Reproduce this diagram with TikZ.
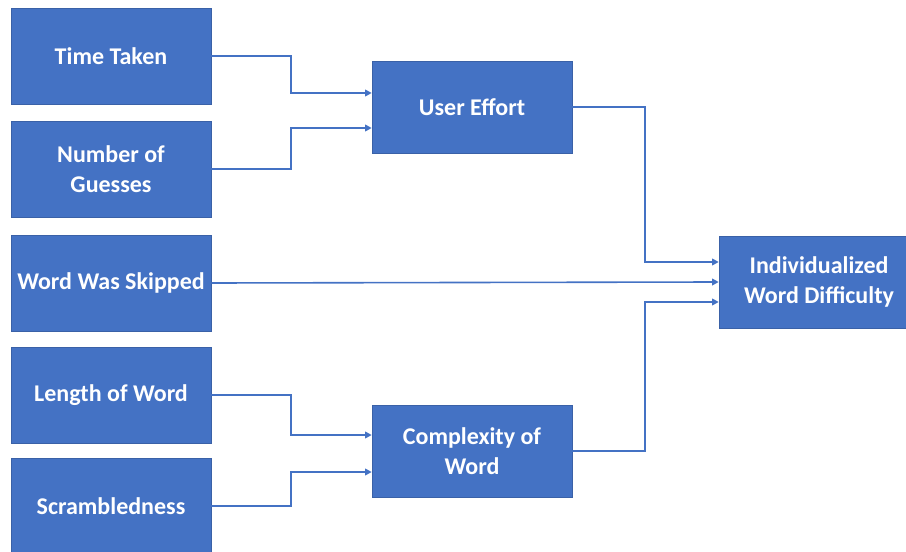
\documentclass[tikz,border=0pt]{standalone}
\usepackage{fontspec}
\setmainfont{Carlito}
\usetikzlibrary{arrows.meta, calc, positioning}
\definecolor{boxblue}{HTML}{4472C4}
\tikzset{
  factor/.style={rectangle, fill=boxblue, draw=boxblue!85!black, line width=0.4pt,
    text=white, font=\fontsize{18}{22.5}\selectfont\bfseries, align=center,
    minimum width=150pt, minimum height=72pt, inner sep=0pt},
  middle/.style={factor, minimum height=69pt},
  result/.style={factor, minimum height=69pt},
  flow/.style={draw=boxblue, line width=1.2pt, -{Triangle[length=5pt,width=5pt]}},
}
\begin{document}
\begin{tikzpicture}[x=0.75pt, y=-0.75pt]
\useasboundingbox (0,0) rectangle (906,552);

\node[factor] at (111,56) (time) {Time Taken};
\node[factor] at (111,169) (guess) {Number of\\Guesses};
\node[factor] at (111,283) (skip) {Word Was Skipped};
\node[factor] at (111,395) (len) {Length of Word};
\node[factor] at (111,506) (scram) {Scrambledness};

\node[middle] at (472,107) (effort) {User Effort};
\node[middle] at (472,451) (complex) {Complexity of\\Word};

\node[result] at (819,282) (diff) {Individualized\\Word Difficulty};

% inputs to user effort
\draw[flow] (time.east) -| (291,75) |- ($(effort.west)+(0,-14)$);
\draw[flow] (guess.east) -| (291,150) |- ($(effort.west)+(0,21)$);

% inputs to complexity
\draw[flow] (len.east) -| (291,415) |- ($(complex.west)+(0,-16)$);
\draw[flow] (scram.east) -| (291,490) |- ($(complex.west)+(0,21)$);

% into the result
\draw[flow] (effort.east) -| (645,180) |- ($(diff.west)+(0,-20)$);
\draw[flow] (skip.east) -- (diff.west);
\draw[flow] (complex.east) -| (645,380) |- ($(diff.west)+(0,20)$);

\end{tikzpicture}
\end{document}
